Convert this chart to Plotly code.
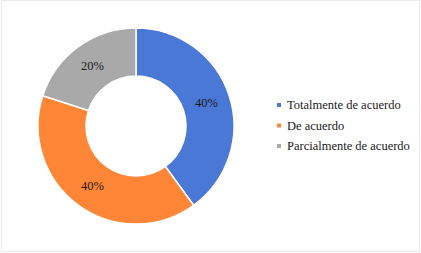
import plotly.graph_objects as go

labels = ["Totalmente de acuerdo", "De acuerdo", "Parcialmente de acuerdo"]
values = [40, 40, 20]
colors = ["#4A78D6", "#FF8636", "#A9A9A9"]

W, H = 421, 253
cx, cy, r = 136, 126, 98
FONT = "'Liberation Serif', 'Times New Roman', Times, serif"
FS = 12.5

fig = go.Figure(go.Pie(
    labels=labels, values=values, sort=False, direction="clockwise", rotation=0,
    hole=0.51, showlegend=False,
    marker=dict(colors=colors, line=dict(color="white", width=1.5)),
    texttemplate="%{percent:.0%}", textposition="inside", insidetextorientation="horizontal",
    textfont=dict(family=FONT, size=FS, color="#1a1a1a"),
    domain=dict(x=[(cx - r) / W, (cx + r) / W], y=[(H - cy - r) / H, (H - cy + r) / H]),
))

# legend drawn from the label/colour lists
leg_x, leg_y0, leg_dy = 279, 105, 20.5
shapes = [dict(type="rect", xref="paper", yref="paper", x0=1.5 / W, x1=419.5 / W,
               y0=(H - 251.5) / H, y1=(H - 0.5) / H, line=dict(color="#EBEBEB", width=1))]
annotations = []
for i, (lab, col) in enumerate(zip(labels, colors)):
    y = leg_y0 + i * leg_dy
    shapes.append(dict(type="rect", xref="paper", yref="paper",
                       x0=(leg_x - 2) / W, x1=(leg_x + 2) / W,
                       y0=(H - y - 2) / H, y1=(H - y + 2) / H,
                       fillcolor=col, line=dict(width=0)))
    annotations.append(dict(text=lab, xref="paper", yref="paper", x=(leg_x + 6) / W,
                            y=(H - y) / H, xanchor="left", yanchor="middle", showarrow=False,
                            font=dict(family=FONT, size=FS, color="#1a1a1a")))

fig.update_layout(
    width=W, height=H, margin=dict(l=0, r=0, t=0, b=0),
    paper_bgcolor="white", plot_bgcolor="white",
    font=dict(family=FONT, size=FS, color="#1a1a1a"),
    shapes=shapes, annotations=annotations,
)

fig.write_html("out.html", config={"displayModeBar": False},
               post_script="document.body.style.margin='0';")
